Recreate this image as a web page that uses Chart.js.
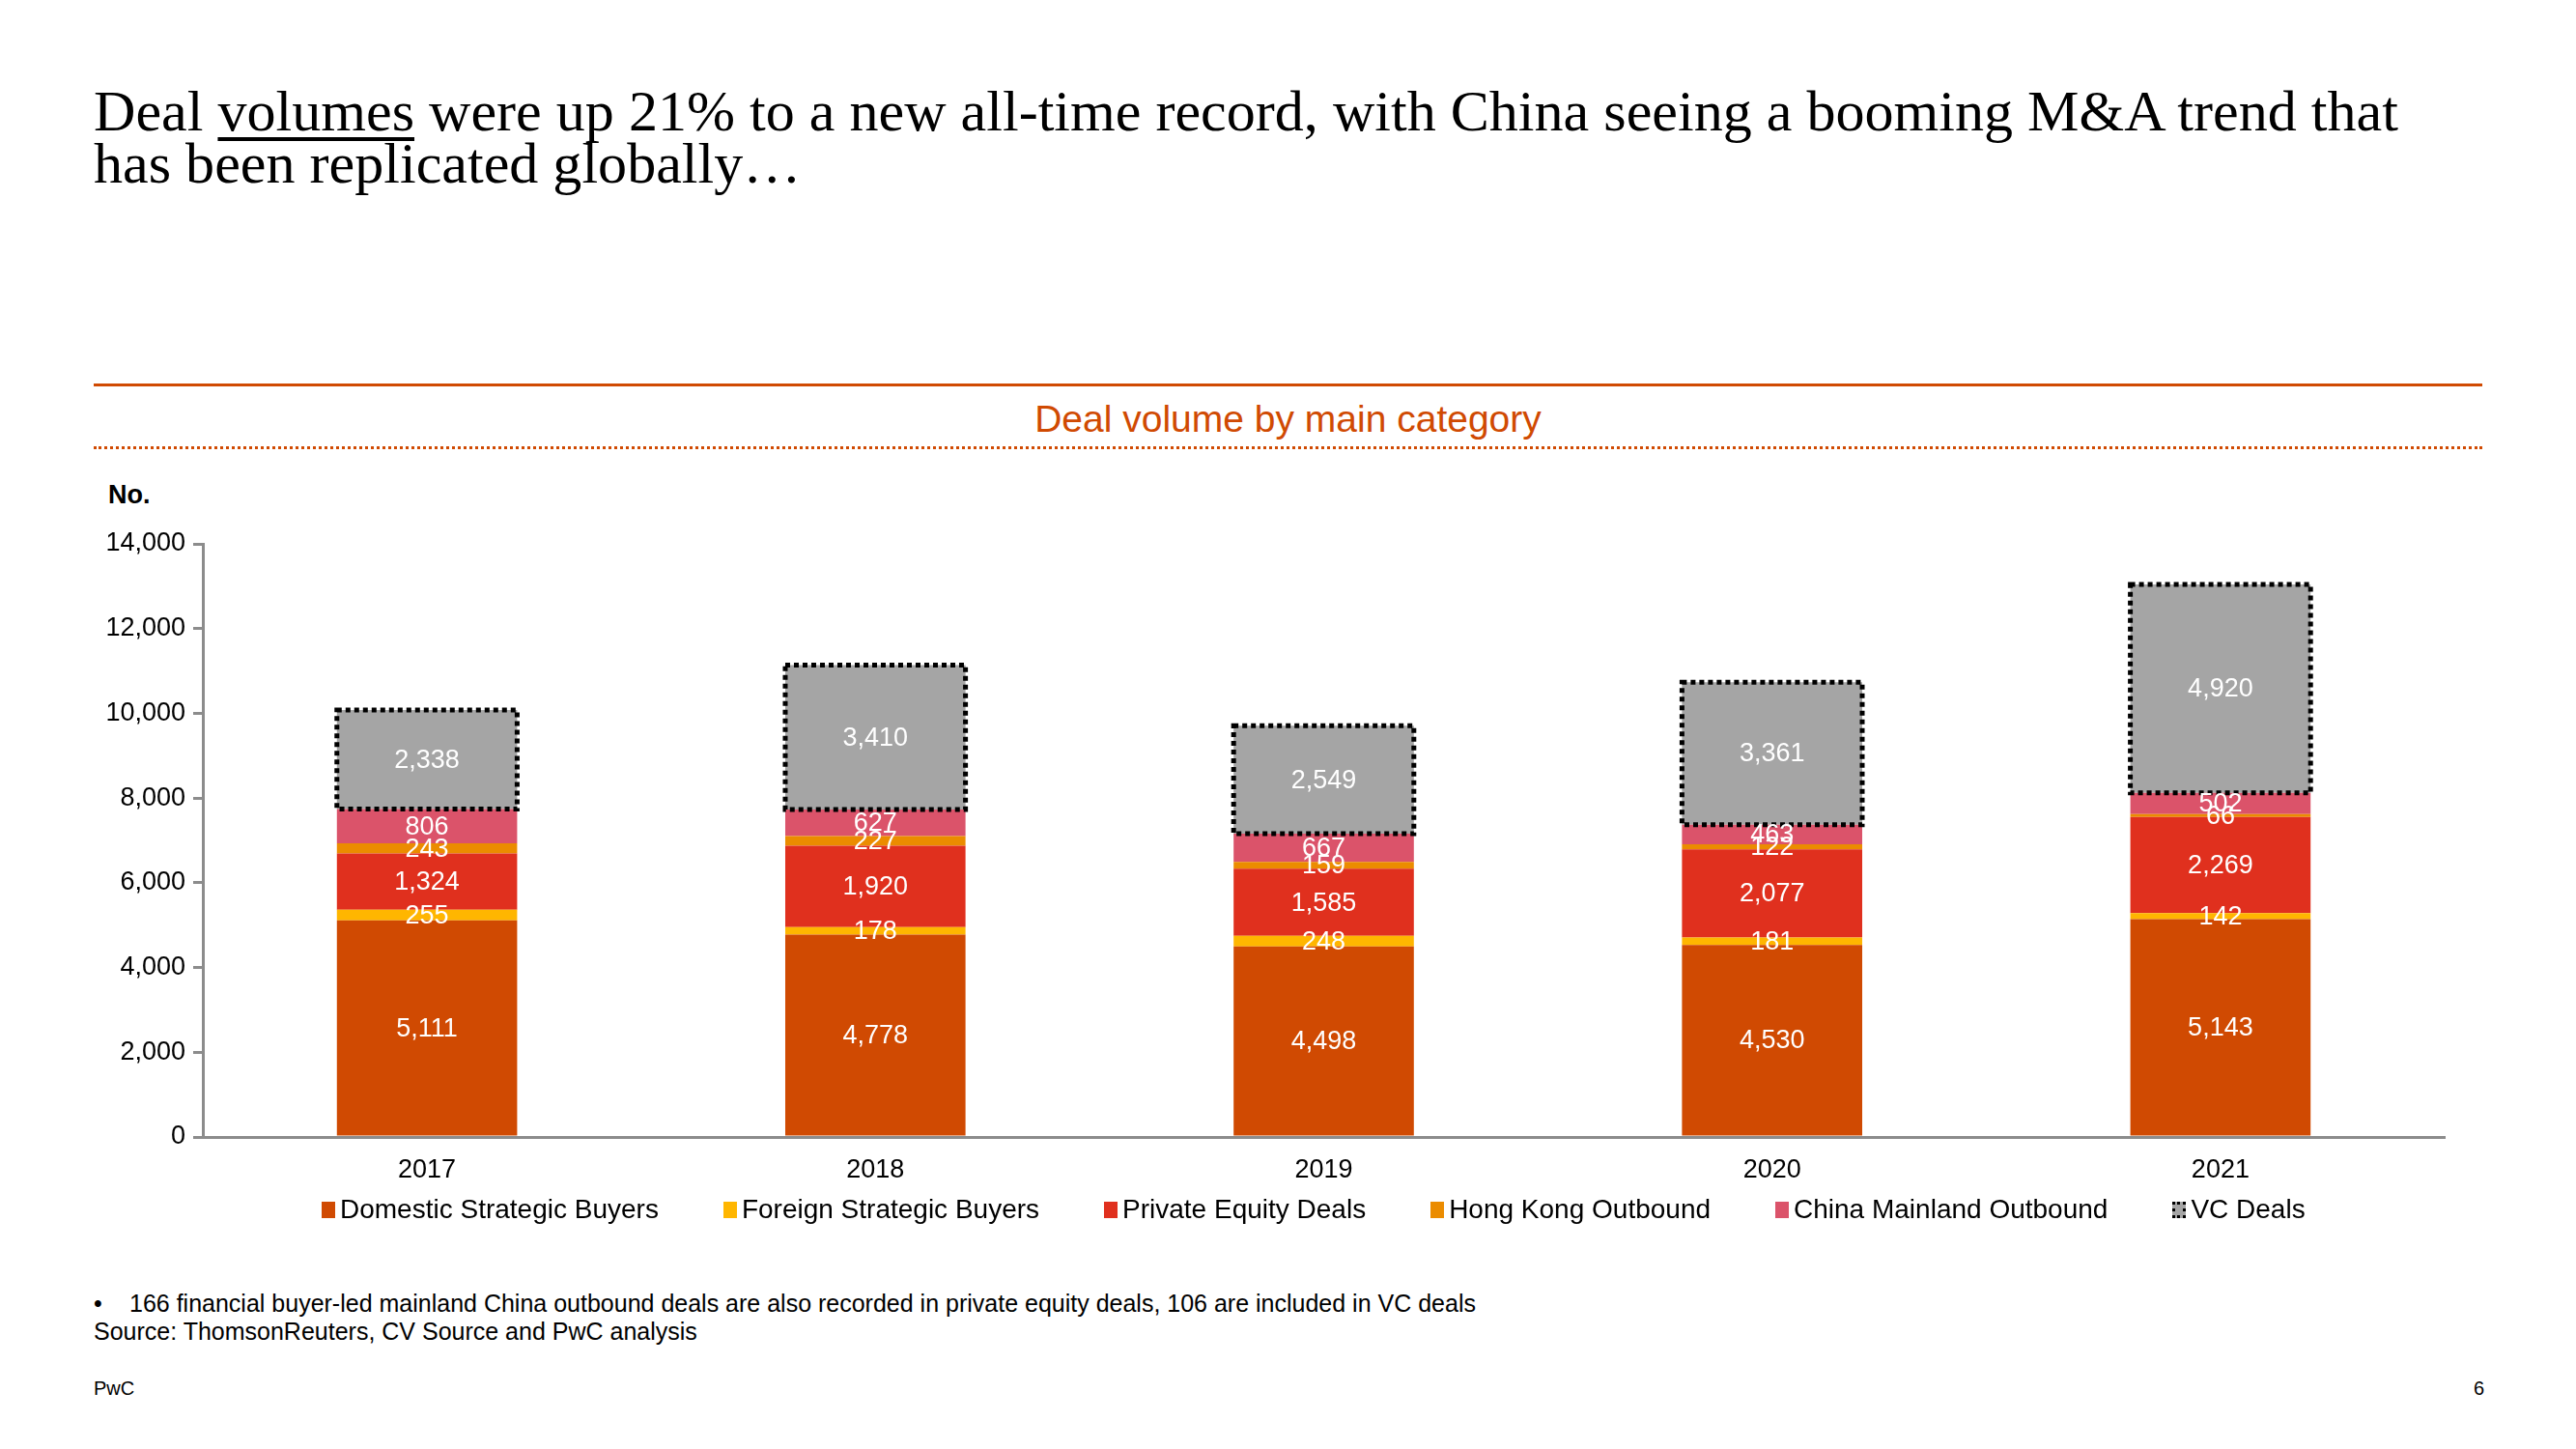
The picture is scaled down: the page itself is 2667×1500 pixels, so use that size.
<!DOCTYPE html>
<html>
<head>
<meta charset="utf-8">
<script src="https://cdn.jsdelivr.net/npm/chart.js@4.4.1/dist/chart.umd.min.js"></script>
<style>
html,body{margin:0;padding:0;background:#fff;}
body{width:2667px;height:1500px;position:relative;overflow:hidden;font-family:"Liberation Sans",Arial,sans-serif;color:#000;}
.title{position:absolute;left:97px;font-family:"Liberation Serif",serif;font-size:54px;line-height:54px;white-space:nowrap;}
.title u{text-decoration-thickness:4px;text-underline-offset:7px;}
#rule1{position:absolute;left:97px;top:397px;width:2473px;height:0;border-top:3px solid #D04A02;}
#rule2{position:absolute;left:97px;top:462px;width:2473px;height:0;border-top:3px dotted #D04A02;}
#sub{position:absolute;left:97px;width:2473px;top:412px;text-align:center;font-size:39px;line-height:44px;color:#D04A02;}
#unit{position:absolute;left:112px;top:496px;font-size:27px;line-height:32px;font-weight:bold;}
#wrap{position:absolute;left:0;top:480px;width:2667px;height:760px;}
#legend{position:absolute;left:333px;top:1236px;display:flex;align-items:center;font-size:28px;line-height:32px;white-space:nowrap;}
#legend .it{display:flex;align-items:center;margin-right:67px;}
#legend .bx{width:14px;height:17px;margin-right:5px;box-sizing:border-box;}
.note{position:absolute;left:97px;font-size:25px;line-height:28px;white-space:nowrap;}
</style>
</head>
<body>
<div class="title" id="t1" style="top:88px">Deal <u>volumes</u> were up 21% to a new all-time record, with China seeing a booming M&amp;A trend that</div>
<div class="title" id="t2" style="top:142px">has been replicated globally…</div>
<div id="rule1"></div>
<div id="sub">Deal volume by main category</div>
<div id="rule2"></div>
<div id="unit">No.</div>
<div id="wrap"><canvas id="c"></canvas></div>
<div id="legend"></div>
<div class="note" style="top:1335px;">•</div>
<div class="note" style="top:1335px;left:134px;">166 financial buyer-led mainland China outbound deals are also recorded in private equity deals, 106 are included in VC deals</div>
<div class="note" style="top:1364px;">Source: ThomsonReuters, CV Source and PwC analysis</div>
<div class="note" style="top:1425px;font-size:20px;line-height:24px;">PwC</div>
<div class="note" style="top:1425px;left:auto;right:95px;font-size:20px;line-height:24px;">6</div>
<script>
// ---- data ----
const categories = ['2017', '2018', '2019', '2020', '2021'];
const seriesNames = ['Domestic Strategic Buyers', 'Foreign Strategic Buyers', 'Private Equity Deals', 'Hong Kong Outbound', 'China Mainland Outbound', 'VC Deals'];
const domesticStrategic = [5111, 4778, 4498, 4530, 5143];
const foreignStrategic = [255, 178, 248, 181, 142];
const privateEquity = [1324, 1920, 1585, 2077, 2269];
const hongKongOutbound = [243, 227, 159, 122, 66];
const chinaMainlandOutbound = [806, 627, 667, 463, 502];
const vcDeals = [2338, 3410, 2549, 3361, 4920];
const yTicks = [0, 2000, 4000, 6000, 8000, 10000, 12000, 14000];

const seriesValues = [domesticStrategic, foreignStrategic, privateEquity, hongKongOutbound, chinaMainlandOutbound, vcDeals];
const colors = ['#D04A02', '#FFB600', '#E0301E', '#EB8C00', '#DB536A', '#A5A5A5'];

// fit title width to reference
(function(){
  const t1 = document.getElementById('t1');
  const w = t1.getBoundingClientRect().width;
  const fs = 54 * 2386 / w;
  document.querySelectorAll('.title').forEach(el => { el.style.fontSize = fs + 'px'; });
})();

const FONT = '"Liberation Sans", Arial, sans-serif';

const segLabels = {
  id: 'segLabels',
  afterDatasetsDraw(chart) {
    const ctx = chart.ctx;
    ctx.save();
    // dotted frame around VC deals
    const vcMeta = chart.getDatasetMeta(5);
    ctx.strokeStyle = '#000';
    ctx.lineWidth = 5;
    ctx.setLineDash([5, 4]);
    vcMeta.data.forEach(bar => {
      const w = bar.width;
      ctx.strokeRect(bar.x - w / 2, bar.y, w, bar.base - bar.y);
    });
    ctx.setLineDash([]);
    ctx.font = '27px ' + FONT;
    ctx.fillStyle = '#fff';
    ctx.textAlign = 'center';
    ctx.textBaseline = 'middle';
    chart.data.datasets.forEach((ds, i) => {
      const meta = chart.getDatasetMeta(i);
      meta.data.forEach((bar, j) => {
        const v = ds.data[j];
        ctx.fillText(v.toLocaleString('en-US'), bar.x, (bar.y + bar.base) / 2 + 1);
      });
    });
    ctx.restore();
  }
};

new Chart(document.getElementById('c'), {
  type: 'bar',
  data: {
    labels: categories,
    datasets: seriesNames.map((n, i) => ({
      label: n,
      data: seriesValues[i],
      backgroundColor: colors[i],
      borderWidth: 0,
      categoryPercentage: 1,
      barPercentage: 0.402
    }))
  },
  options: {
    responsive: true,
    maintainAspectRatio: false,
    devicePixelRatio: 1,
    animation: false,
    layout: { padding: { top: 83, left: 0, right: 136, bottom: 0 } },
    plugins: { legend: { display: false }, tooltip: { enabled: false } },
    scales: {
      x: {
        stacked: true,
        grid: { display: false, drawTicks: false },
        border: { display: true, color: '#8C8C8C', width: 3 },
        ticks: { color: '#000', font: { family: FONT, size: 27 }, padding: 18, maxRotation: 0 },
        afterFit(s) { s.height = 63; }
      },
      y: {
        stacked: true,
        min: 0, max: 14000,
        afterBuildTicks(s) { s.ticks = yTicks.map(v => ({ value: v })); },
        grid: { display: true, drawOnChartArea: false, drawTicks: true, tickLength: 10, color: '#8C8C8C', lineWidth: 3 },
        border: { display: true, color: '#8C8C8C', width: 3 },
        ticks: { color: '#000', font: { family: FONT, size: 27 }, padding: 8,
          callback: v => Number(v).toLocaleString('en-US') },
        afterFit(s) { s.width = 210; }
      }
    }
  },
  plugins: [segLabels]
});

// legend from the series arrays
const lg = document.getElementById('legend');
seriesNames.forEach((n, i) => {
  const it = document.createElement('div'); it.className = 'it';
  const bx = document.createElement('div'); bx.className = 'bx';
  if (i === 5) { bx.style.background = colors[i]; bx.style.border = '3px dotted #000'; }
  else bx.style.background = colors[i];
  const tx = document.createElement('span'); tx.textContent = n;
  it.appendChild(bx); it.appendChild(tx); lg.appendChild(it);
});
</script>
</body>
</html>
